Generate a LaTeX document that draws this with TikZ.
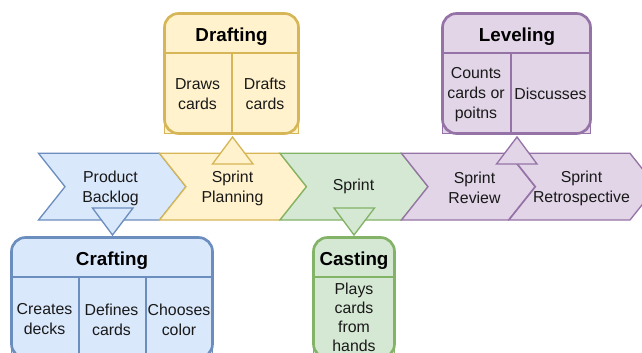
\documentclass[tikz,border=0pt]{standalone}
\usepackage{fontspec}
\setmainfont{Liberation Sans}
\definecolor{bf}{HTML}{DAE8FC}\definecolor{bd}{HTML}{6C8EBF}
\definecolor{yf}{HTML}{FFF2CC}\definecolor{yd}{HTML}{D6B656}
\definecolor{gf}{HTML}{D5E8D4}\definecolor{gd}{HTML}{82B366}
\definecolor{pf}{HTML}{E1D5E7}\definecolor{pd}{HTML}{9673A6}
\tikzset{
  shp/.style={line width=1pt,line join=miter},
  blue/.style={fill=bf,draw=bd},
  yel/.style={fill=yf,draw=yd},
  grn/.style={fill=gf,draw=gd},
  pur/.style={fill=pf,draw=pd},
  lbl/.style={font=\fontsize{11.9}{15}\selectfont,align=center,inner sep=0pt,text=black!90},
  lbltight/.style={font=\fontsize{11.9}{14.2}\selectfont,align=center,inner sep=0pt,text=black!90},
  ttl/.style={font=\fontsize{14.1}{16}\selectfont\bfseries,align=center,inner sep=0pt,text=black},
  frame/.style={line width=2pt,rounded corners=10.5pt},
  back/.style={line width=.6pt},
  rule/.style={line width=2pt},
  split/.style={line width=1pt},
}
\newcommand{\chev}[3]{% style, left, right-top
  \path[shp,#1] (#2,153.3) -- (#3,153.3) -- (#3+26.5,186.7) -- (#3,220) -- (#2,220) -- (#2+26.5,186.7) -- cycle;
}
\newcommand{\panel}[7]{% style,x0,x1,y0,yh,y1,rule colour
  \path[#1,back] (#2,#4+12) rectangle (#3,#6);
  \path[#1,frame] (#2,#4) rectangle (#3,#6);
  \draw[rule,draw=#7] (#2,#5) -- (#3,#5);
}
\begin{document}
\begin{tikzpicture}[x=0.75pt,y=-0.75pt]
\useasboundingbox (0,0) rectangle (642,353);
\clip (0,0) rectangle (642,353);
% chevrons
\chev{blue}{38.5}{159.5}
\chev{yel}{159.5}{280}
\chev{grn}{280}{401.5}
\chev{pur}{401.5}{508.5}
\chev{pur}{509}{630}
\node[lbl] (pb) at (110.5,188) {Product\\Backlog};
\node[lbl] (sp) at (232.5,188) {Sprint\\Planning};
\node[lbl] (s) at (353.5,186) {Sprint};
\node[lbl] (sr) at (474.5,188) {Sprint\\Review};
\node[lbl] (sq) at (581.5,188) {Sprint\\Retrospective};
% panels
\panel{blue}{11.5}{212.5}{237.5}{277}{358}{bd}
\panel{yel}{164.5}{298.5}{13.5}{53}{133.5}{yd}
\panel{grn}{313.5}{394.5}{237.5}{277}{358}{gd}
\panel{pur}{442.5}{590.5}{13.5}{53}{133.5}{pd}
\draw[split,draw=bd] (79,277) -- (79,358) (146,277) -- (146,358);
\draw[split,draw=yd] (232,53) -- (232,133);
\draw[line width=1.5pt,draw=pd] (511,53) -- (511,133);
\node[ttl] (crafting) at (112,261) {Crafting};
\node[ttl] (drafting) at (231.5,37) {Drafting};
\node[ttl] (casting) at (354,261) {Casting};
\node[ttl] (leveling) at (517,37) {Leveling};
\node[lbl] (c1) at (44.5,319.5) {Creates\\decks};
\node[lbl] (c2) at (111.5,319.5) {Defines\\cards};
\node[lbl] (c3) at (179,319.5) {Chooses\\color};
\node[lbl] (d1) at (197.5,94) {Draws\\cards};
\node[lbl] (d2) at (265,94) {Drafts\\cards};
\node[lbltight] (k) at (354,317) {Plays\\cards\\from\\hands};
\node[lbl] (l1) at (476,94.5) {Counts\\cards or\\poitns};
\node[lbl] (l2) at (550.5,94) {Discusses};
% triangles
\path[shp,blue] (92.5,208) -- (133,208) -- (112.5,235) -- cycle;
\path[shp,yel] (212.5,164) -- (253,164) -- (232.5,137) -- cycle;
\path[shp,grn] (334,208) -- (374.5,208) -- (354,235) -- cycle;
\path[shp,pur] (496.5,164) -- (537,164) -- (517,137) -- cycle;
\end{tikzpicture}
\end{document}
